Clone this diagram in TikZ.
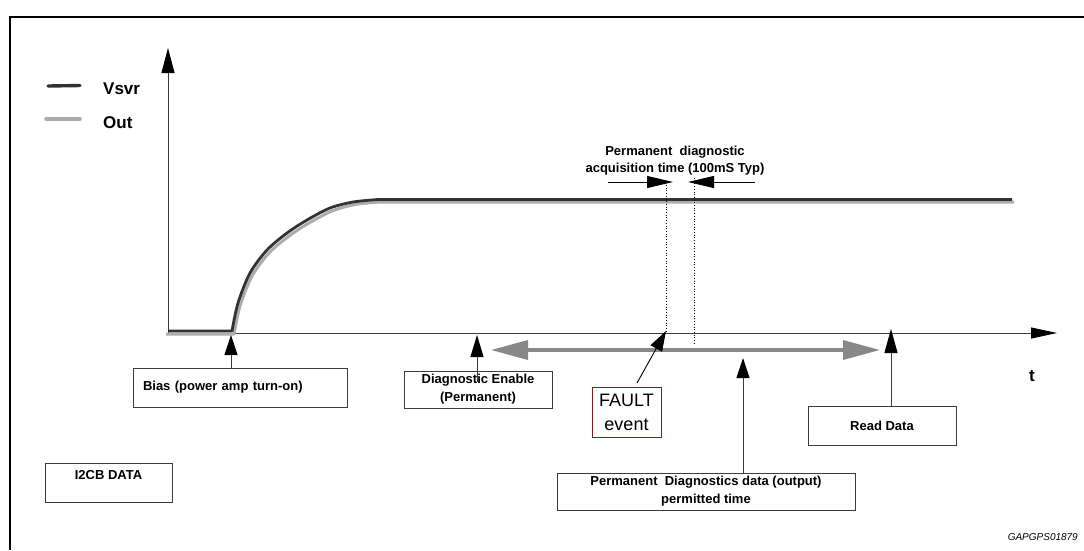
\documentclass[tikz,border=0pt]{standalone}
\usepackage{fontspec}
\setmainfont{Liberation Sans}
\usetikzlibrary{arrows.meta}
\definecolor{darkcurve}{RGB}{50,50,50}
\definecolor{lightcurve}{RGB}{172,172,172}
\definecolor{midgray}{RGB}{136,136,136}
\definecolor{faultred}{RGB}{122,30,30}
\definecolor{boxline}{RGB}{60,60,60}
\definecolor{axisline}{RGB}{60,60,60}
\begin{document}
\begin{tikzpicture}[x=1pt,y=-1pt,
  lbl/.style={font=\fontsize{13}{18}\selectfont\bfseries, align=center},
  box/.style={draw=boxline, line width=0.9pt, inner sep=0pt, lbl},
  axis/.style={draw=axisline, line width=0.9pt},
  bigtip/.style={-{Triangle[length=25pt,width=13pt,black]}},
  tip/.style={-{Triangle[length=20pt,width=13pt,black]}},
  acqtip/.style={-{Triangle[length=26pt,width=12pt,black]}},
  grayarrow/.style={draw=midgray, line width=3.5pt,
     {Triangle[length=37pt,width=19pt]}-{Triangle[length=37pt,width=19pt]}},
  darkc/.style={draw=darkcurve, line width=2.8pt},
  lightc/.style={draw=lightcurve, line width=3pt},
  dotline/.style={draw=black, line width=0.7pt, dotted}
]
\useasboundingbox (0,0) rectangle (1084,550);
% frame
\draw[line width=2pt] (10,550) -- (10,17) -- (1084,17);

% legend
\draw[darkc, line width=3.4pt, line cap=round] (48,86) -- (80,85.5);
\draw[lightc, line width=3.6pt, line cap=round] (46,119) -- (80,119);
\node[anchor=base west, font=\fontsize{17}{20}\selectfont\bfseries, inner sep=0pt] (lvsvr) at (103,94) {Vsvr};
\node[anchor=base west, font=\fontsize{17}{20}\selectfont\bfseries, inner sep=0pt] (lout) at (103,128) {Out};

% axes
\coordinate (O) at (168,333);
\coordinate (Ytop) at (168,48);
\coordinate (Xend) at (1057,333);
\draw[axis, bigtip] (O) -- (Ytop);
\draw[axis, -{Triangle[length=26pt,width=11pt,black]}] (O) -- (Xend);
\node[font=\fontsize{17}{20}\selectfont\bfseries, inner sep=0pt] (tlabel) at (1032,376) {t};

% curves
\draw[lightc, line join=round] (166,334) -- (234,334) -- plot[smooth] coordinates {(234,334) (240,306) (252,276) (269,253) (289,236) (309,223) (332,211) (355,204.5) (380,202)} -- (1014,202);
\draw[darkc, line join=round] (168,331) -- (232,331) -- plot[smooth] coordinates {(232,331) (238,303) (250,273) (267,250) (287,233) (307,220) (330,208) (353,202) (378,199.5)} -- (1012,199.5);

% acquisition time
\node[lbl, font=\fontsize{13}{17}\selectfont\bfseries, inner sep=0pt] (acq) at (675,161) {Permanent\ \ diagnostic\\acquisition time (100mS Typ)};
\coordinate (dl1top) at (666,185);
\coordinate (dl1bot) at (666,331);
\coordinate (dl2top) at (694,178);
\coordinate (dl2bot) at (694,345);
\draw[dotline] (dl1top) -- (dl1bot);
\draw[dotline] (dl2top) -- (dl2bot);
\coordinate (acqL) at (608,182);
\coordinate (acqLtip) at (673,182);
\coordinate (acqR) at (755,182);
\coordinate (acqRtip) at (688,182);
\draw[line width=0.9pt, acqtip] (acqL) -- (acqLtip);
\draw[line width=0.9pt, acqtip] (acqR) -- (acqRtip);

% gray double arrow
\coordinate (gL) at (491,350);
\coordinate (gR) at (880,350);
\draw[grayarrow] (gL) -- (gR);

% boxes
\node[box, minimum width=214pt, minimum height=39pt, text width=194pt, inner xsep=10pt, align=left] (bias) at (240,387.5) {Bias (power amp turn-on)};
\node[box, minimum width=148pt, minimum height=37pt] (diag) at (478,389.5) {Diagnostic Enable\\(Permanent)};
\node[draw=faultred, line width=0.9pt, minimum width=69pt, minimum height=50pt, inner sep=0pt, align=center, font=\fontsize{18}{24}\selectfont] (fault) at (626.5,412) {FAULT\\event};
\node[box, minimum width=148pt, minimum height=39pt] (read) at (882,425.5) {Read Data};
\node[box, minimum width=127pt, anchor=north, inner ysep=7pt, text height=9.4pt, text depth=15.6pt] (i2cb) at (108.5,463) {I2CB DATA};
\node[box, minimum width=298pt, minimum height=37pt] (perm) at (706,491.5) {Permanent\ \ Diagnostics data (output)\\permitted time};

% pointer arrows
\coordinate (biasTip) at (231,335);
\draw[axis, tip] (bias.north -| biasTip) -- (biasTip);
\coordinate (diagStart) at (477,382);
\coordinate (diagTip) at (477,335);
\draw[axis, -{Triangle[length=22pt,width=13pt,black]}] (diagStart) -- (diagTip);
\coordinate (faultStart) at (637,383);
\coordinate (faultTip) at (666,331);
\draw[line width=0.9pt, tip] (faultStart) -- (faultTip);
\coordinate (readTip) at (891,329);
\draw[axis, -{Triangle[length=24pt,width=13pt,black]}] (read.north -| readTip) -- (readTip);
\coordinate (permTip) at (743,358);
\draw[axis, tip] (perm.north -| permTip) -- (permTip);

% figure code
\node[anchor=base east, font=\fontsize{10}{12}\selectfont\itshape, inner sep=0pt] (code) at (1078,540) {GAPGPS01879};
\end{tikzpicture}
\end{document}
